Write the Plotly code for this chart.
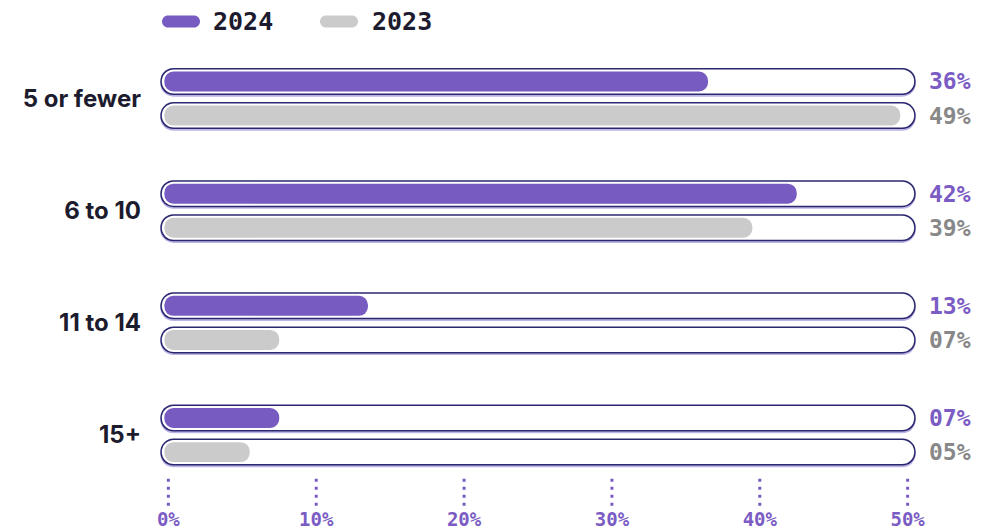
import plotly.graph_objects as go

categories = ["5 or fewer", "6 to 10", "11 to 14", "15+"]
years = ["2024", "2023"]
values_2024 = [36, 42, 13, 7]
values_2023 = [49, 39, 7, 5]
tick_values = [0, 10, 20, 30, 40, 50]
tick_labels = ["0%", "10%", "20%", "30%", "40%", "50%"]

purple = "#775bc0"
gray = "#cbcbcb"
navy = "#2b2870"
dark = "#1d1b2e"
mono = "DejaVu Sans Mono"

# row positions: each category has a 2024 row above and a 2023 row below
offset = 0.152
rows_2024 = [i - offset for i in range(len(categories))]
rows_2023 = [i + offset for i in range(len(categories))]
all_rows = rows_2024 + rows_2023
all_vals = values_2024 + values_2023
fill_colors = [purple] * len(values_2024) + [gray] * len(values_2023)
label_colors = ["#7a5cc4"] * len(values_2024) + ["#888888"] * len(values_2023)

fig = go.Figure()


def capsule(x0, x1, y, width, color):
    fig.add_trace(go.Bar(
        y=y, x=[b - a for a, b in zip(x0, x1)], base=x0,
        orientation="h", width=width,
        marker=dict(color=color, cornerradius="50%", line_width=0),
        hoverinfo="skip", showlegend=False))


n = len(all_rows)
# track: shadow, outline, white inside
capsule([-0.54] * n, [50.54] * n, [y + 0.015 for y in all_rows], 0.2406, "#bdb4e6")
capsule([-0.54] * n, [50.54] * n, all_rows, 0.2406, navy)
capsule([-0.44] * n, [50.44] * n, all_rows, 0.214, "white")
# value bars
capsule([-0.27] * n, [v + 0.5 for v in all_vals], all_rows, 0.178, fill_colors)

# dotted ticks under the chart
xs, ys = [], []
for t in tick_values:
    xs += [t, t, None]
    ys += [3.39, 3.64, None]
fig.add_trace(go.Scatter(x=xs, y=ys, mode="lines",
                         line=dict(color=purple, width=3, dash="3px,5px"),
                         hoverinfo="skip", showlegend=False))

# value labels right of the tracks
for y, v, c in zip(all_rows, all_vals, label_colors):
    fig.add_annotation(x=50.54, y=y, text=f"{v:02d}%", showarrow=False,
                       xanchor="left", yanchor="middle", xshift=11,
                       font=dict(family=mono, size=23, color=c, weight="bold"))

# custom legend with pill symbols (page has an 8px body margin)
pill = ("M6,-6 H32 C35.3,-6 38,-3.3 38,0 C38,3.3 35.3,6 32,6 H6 "
        "C2.7,6 0,3.3 0,0 C0,-3.3 2.7,-6 6,-6 Z")
for year, color, px_sym, px_txt in zip(years, [purple, gray], [162, 320], [211, 370]):
    fig.add_shape(type="path", path=pill, xref="paper", yref="paper",
                  xsizemode="pixel", ysizemode="pixel",
                  xanchor=(px_sym - 158) / 760, yanchor=(510 - 21.5) / 455,
                  fillcolor=color, line_width=0)
    fig.add_annotation(x=(px_txt - 158) / 760, y=(510 - 21.5) / 455,
                       xref="paper", yref="paper", text=year, showarrow=False,
                       xanchor="left", yanchor="middle",
                       font=dict(family=mono, size=25, color=dark, weight="bold"))

fig.update_layout(
    width=986, height=522,
    margin=dict(l=150, r=76, t=47, b=20),
    barmode="overlay",
    plot_bgcolor="white", paper_bgcolor="white",
    showlegend=False,
    xaxis=dict(range=[-0.7, 50.7], tickvals=tick_values, ticktext=tick_labels,
               showgrid=False, zeroline=False, showline=False, ticks="",
               automargin=False, ticklabelstandoff=-4,
               tickfont=dict(family=mono, size=19, color="#7a5cc4", weight="bold")),
    yaxis=dict(range=[3.668, -0.388], tickvals=list(range(len(categories))),
               ticktext=categories, showgrid=False, zeroline=False, showline=False,
               ticks="", ticklabelstandoff=16, automargin=False,
               tickfont=dict(family="Inter", size=24, color=dark, weight=700)),
)

fig.write_html("out.html")
